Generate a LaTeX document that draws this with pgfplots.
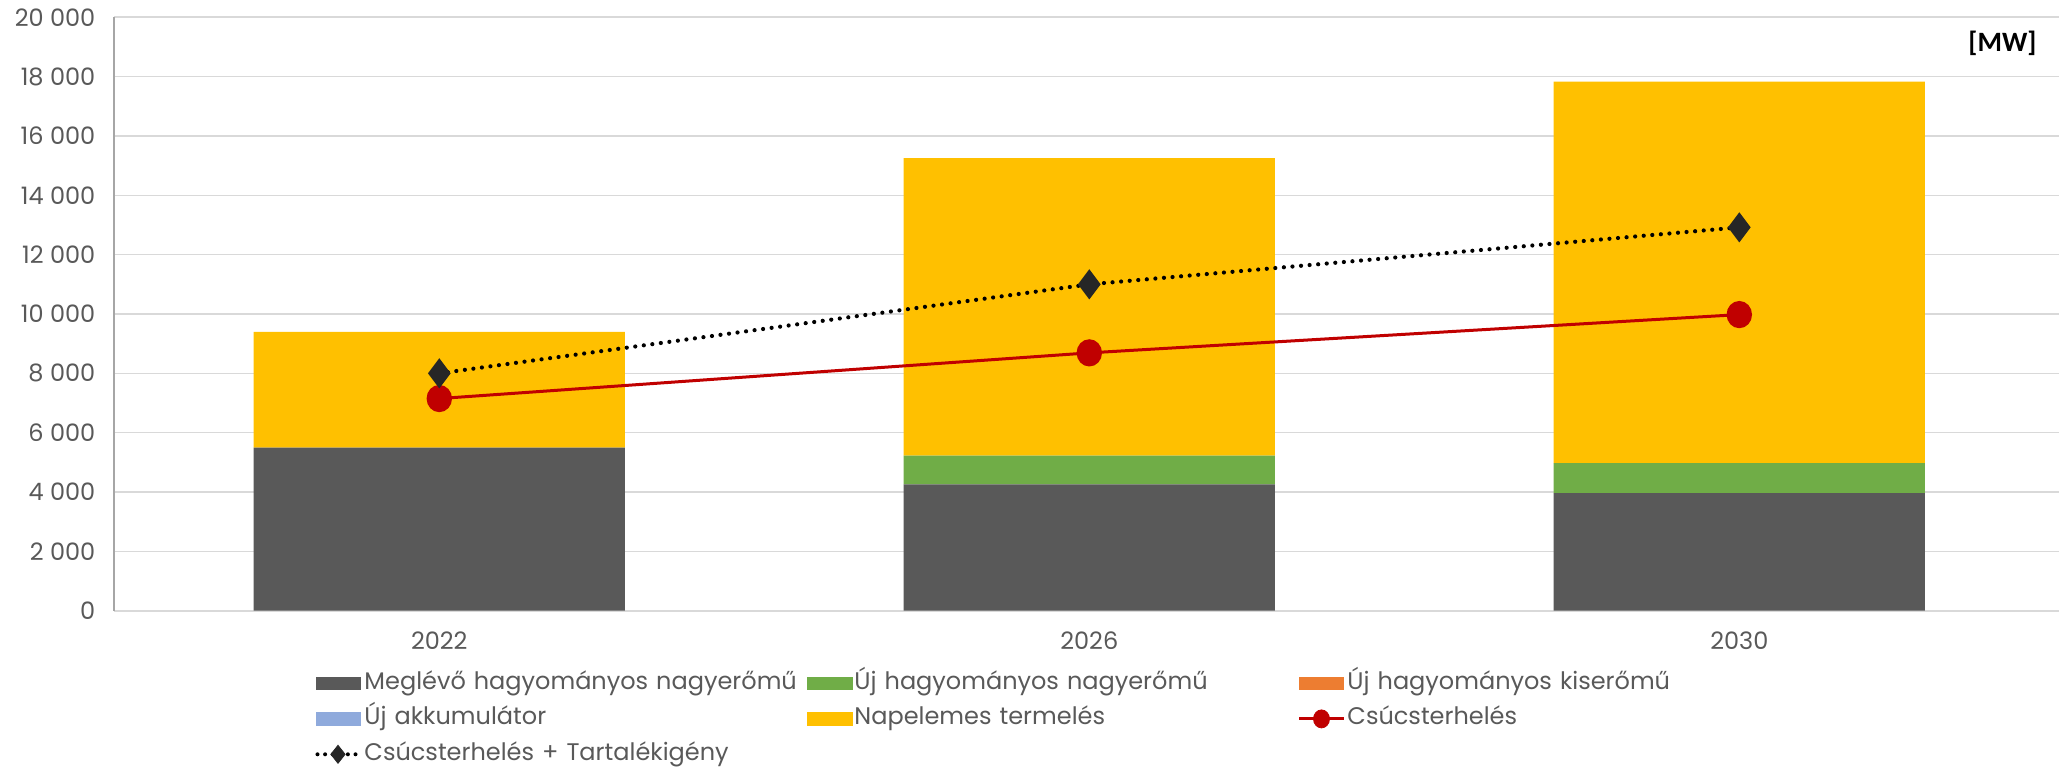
\documentclass[border=0pt]{standalone}
\usepackage{fontspec}
\setmainfont{Poppins}
\newfontfamily\mwfont{Carlito}
\usepackage{pgfplots}
\pgfplotsset{compat=1.18}

\definecolor{cgrey}{HTML}{595959}
\definecolor{cgreen}{HTML}{70AD47}
\definecolor{corange}{HTML}{ED7D31}
\definecolor{cblue}{HTML}{8FAADC}
\definecolor{cyellow}{HTML}{FFC000}
\definecolor{cred}{HTML}{C00000}
\definecolor{cdark}{HTML}{262626}
\definecolor{gridc}{HTML}{D9D9D9}
\definecolor{axisc}{HTML}{A6A6A6}
\definecolor{textc}{HTML}{595959}

\pgfplotsset{
  base/.style={
    scale only axis, width=975bp, height=296.7bp,
    xmin=-0.5, xmax=2.5, ymin=0, ymax=20000,
  },
  barleg/.style={legend image code/.code={\fill[#1] (0bp,-3.3bp) rectangle (22.5bp,3.3bp);}},
}

\begin{document}
\begin{tikzpicture}
\begin{axis}[base,
  ybar stacked, bar width=0.571,
  axis x line*=bottom, axis y line*=left,
  x axis line style={draw=gridc, line width=0.8bp, -},
  y axis line style={draw=axisc, line width=0.8bp, -},
  major tick length=0pt,
  xtick={0,1,2}, xticklabels={2022,2026,2030},
  ytick={0,2000,...,20000},
  ymajorgrids, grid style={draw=gridc, line width=0.8bp},
  ticklabel style={font=\fontsize{12bp}{14bp}\selectfont, text=textc},
  yticklabel style={xshift=-6bp},
  xticklabel style={yshift=-7bp},
  scaled y ticks=false,
  /pgf/number format/1000 sep={\ },
  /pgf/number format/assume math mode=true,
  legend columns=3,
  legend style={at={(0,0)}, anchor=north west, xshift=100.4bp, yshift=-29.2bp,
    draw=none, fill=none, inner sep=0pt, row sep=3.7bp, column sep=0pt,
    font=\fontsize{12bp}{14bp}\selectfont, text=textc,
    nodes={inner sep=1bp, text width=220.5bp, align=left, text height=9bp, text depth=3bp}},
]
\addplot[fill=cgrey, draw=none, barleg=cgrey] coordinates {(0,5500) (1,4260) (2,3960)};
\addplot[fill=cgreen, draw=none, barleg=cgreen] coordinates {(0,0) (1,970) (2,1010)};
\addplot[fill=corange, draw=none, barleg=corange] coordinates {(0,0) (1,0) (2,0)};
\addplot[fill=cblue, draw=none, barleg=cblue] coordinates {(0,0) (1,0) (2,0)};
\addplot[fill=cyellow, draw=none, barleg=cyellow] coordinates {(0,3900) (1,10020) (2,12860)};
\addlegendimage{legend image code/.code={\draw[cred, line width=1.5bp] (0bp,0bp) -- (22.5bp,0bp); \fill[cred] (11.25bp,0bp) ellipse (4bp and 4.5bp);}}
\addlegendimage{legend image code/.code={\draw[black, line width=2bp, line cap=round, dash pattern=on 0pt off 3.8bp] (1bp,0bp) -- (22.5bp,0bp); \fill[cdark] (11.25bp,4.5bp) -- (14.8bp,0bp) -- (11.25bp,-4.5bp) -- (7.7bp,0bp) -- cycle;}}
\legend{\mbox{Meglévő hagyományos nagyerőmű}, \mbox{Új hagyományos nagyerőmű}, \mbox{Új hagyományos kiserőmű}, Új akkumulátor, Napelemes termelés, Csúcsterhelés, \mbox{Csúcsterhelés + Tartalékigény}}
\node[anchor=east, inner sep=0pt, font=\mwfont\fontsize{14bp}{16bp}\selectfont\bfseries] at (961.3bp,283.85bp) {[MW]};
\end{axis}
\begin{axis}[base, axis lines=none]
\addplot[cred, line width=1.5bp, mark=*, mark size=5.6bp, mark options={fill=cred, draw=cred, yscale=1.08}] coordinates {(0,7150) (1,8690) (2,9980)};
\addplot[black, line width=2.1bp, line cap=round, dash pattern=on 0pt off 4.3bp, mark=diamond*, mark size=5.8bp, mark options={solid, fill=cdark, draw=cdark}] coordinates {(0,8000) (1,11000) (2,12920)};
\end{axis}
\pgfresetboundingbox
\path[use as bounding box] (-57.15bp,-78.65bp) rectangle (972.35bp,305.35bp);
\end{tikzpicture}
\end{document}
